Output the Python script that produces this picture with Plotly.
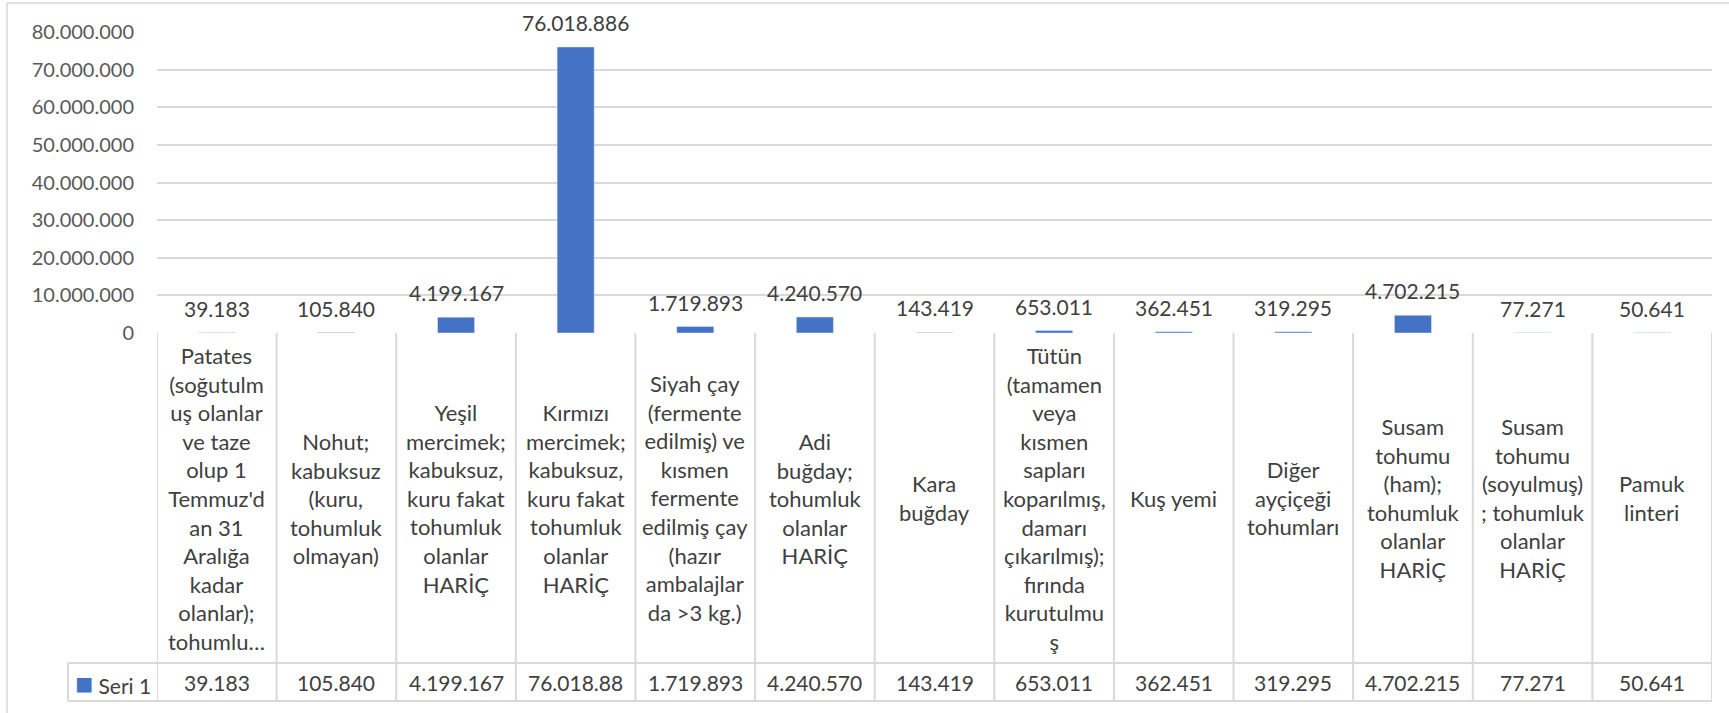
import plotly.graph_objects as go

# chart data
categories = [
    "Patates<br>(soğutulm<br>uş olanlar<br>ve taze<br>olup 1<br>Temmuz'd<br>an 31<br>Aralığa<br>kadar<br>olanlar);<br>tohumlu…",
    "Nohut;<br>kabuksuz<br>(kuru,<br>tohumluk<br>olmayan)",
    "Yeşil<br>mercimek;<br>kabuksuz,<br>kuru fakat<br>tohumluk<br>olanlar<br>HARİÇ",
    "Kırmızı<br>mercimek;<br>kabuksuz,<br>kuru fakat<br>tohumluk<br>olanlar<br>HARİÇ",
    "Siyah çay<br>(fermente<br>edilmiş) ve<br>kısmen<br>fermente<br>edilmiş çay<br>(hazır<br>ambalajlar<br>da &gt;3 kg.)",
    "Adi<br>buğday;<br>tohumluk<br>olanlar<br>HARİÇ",
    "Kara<br>buğday",
    "Tütün<br>(tamamen<br>veya<br>kısmen<br>sapları<br>koparılmış,<br>damarı<br>çıkarılmış);<br>fırında<br>kurutulmu<br>ş",
    "Kuş yemi",
    "Diğer<br>ayçiçeği<br>tohumları",
    "Susam<br>tohumu<br>(ham);<br>tohumluk<br>olanlar<br>HARİÇ",
    "Susam<br>tohumu<br>(soyulmuş)<br>; tohumluk<br>olanlar<br>HARİÇ",
    "Pamuk<br>linteri",
]
values = [39183, 105840, 4199167, 76018886, 1719893, 4240570, 143419,
          653011, 362451, 319295, 4702215, 77271, 50641]
series_name = "Seri 1"
y_ticks = [0, 10_000_000, 20_000_000, 30_000_000, 40_000_000,
           50_000_000, 60_000_000, 70_000_000, 80_000_000]

W, H = 1729, 713
FONT = "Lato, 'Open Sans', sans-serif"
GRID = "#d9d9d9"
BLUE = "#4472c4"


def px(x):
    return x / W


def py(y):
    return 1 - y / H


def tr_num(v):
    return f"{v:,}".replace(",", ".")


# pixel layout of the excel-like chart
plot_l, plot_r = 157, 1712
plot_t, plot_b = 32, 333
head_b, table_b = 663, 701
legend_l = 68

fig = go.Figure()
fig.add_trace(go.Bar(
    x=categories, y=values, name=series_name,
    marker_color=BLUE, showlegend=False, hoverinfo="skip",
))

# data labels above bars
for c, v in zip(categories, values):
    fig.add_annotation(x=c, y=v, text=tr_num(v), showarrow=False,
                       yanchor="bottom", yshift=10,
                       font=dict(family=FONT, size=21, color="#404040"))

shapes = []
# vertical table lines at category boundaries
for i in range(len(categories) + 1):
    shapes.append(dict(type="line", xref="x", yref="paper",
                       x0=i - 0.5, x1=i - 0.5, y0=py(plot_b), y1=py(table_b),
                       line=dict(color=GRID, width=2)))
# horizontal table lines
for y in (head_b, table_b):
    shapes.append(dict(type="line", xref="paper", yref="paper",
                       x0=px(legend_l), x1=px(plot_r), y0=py(y), y1=py(y),
                       line=dict(color=GRID, width=2)))
shapes.append(dict(type="line", xref="paper", yref="paper",
                   x0=px(legend_l), x1=px(legend_l), y0=py(head_b), y1=py(table_b),
                   line=dict(color=GRID, width=2)))
# chart area border
shapes.append(dict(type="rect", xref="paper", yref="paper",
                   x0=px(7), x1=px(1740), y0=py(3), y1=py(730),
                   line=dict(color=GRID, width=1.5)))

# table header (category names) and values row
for c, v in zip(categories, values):
    fig.add_annotation(x=c, y=py((plot_b + head_b) / 2), yref="paper",
                       text=c, showarrow=False, yanchor="middle",
                       font=dict(family=FONT, size=22, color="#404040"))
    fig.add_annotation(x=c, y=py((head_b + table_b) / 2), yref="paper",
                       text=tr_num(v)[:9], showarrow=False, yanchor="middle",
                       font=dict(family=FONT, size=21, color="#404040"))

fig.add_annotation(x=px(legend_l + 5), y=py((head_b + table_b) / 2),
                   xref="paper", yref="paper", xanchor="left", yanchor="middle",
                   text=f"<span style='color:{BLUE};font-size:30px'>■</span> {series_name}",
                   showarrow=False,
                   font=dict(family=FONT, size=21, color="#404040"))

fig.update_layout(
    width=W, height=H, autosize=False,
    margin=dict(l=0, r=0, t=0, b=0, pad=0),
    paper_bgcolor="white", plot_bgcolor="white",
    separators=",.",
    bargap=0.69,
    shapes=shapes,
    xaxis=dict(domain=[px(plot_l), px(plot_r)], showticklabels=False,
               showgrid=False, zeroline=False, showline=False, automargin=False,
               range=[-0.5, len(categories) - 0.5], fixedrange=True),
    yaxis=dict(domain=[py(plot_b), py(plot_t)], range=[0, 80_000_000],
               tickvals=y_ticks, ticktext=[tr_num(t) for t in y_ticks],
               showgrid=True, gridcolor=GRID, gridwidth=2, automargin=False,
               zeroline=False, showline=False, ticks="", fixedrange=True,
               ticklabelstandoff=22,
               tickfont=dict(family=FONT, size=20, color="#595959")),
    font=dict(family=FONT),
)

fig.write_html("out.html",
               config={"displayModeBar": False, "staticPlot": True},
               post_script="document.body.style.margin='0';"
                           "document.body.style.overflow='hidden';")
